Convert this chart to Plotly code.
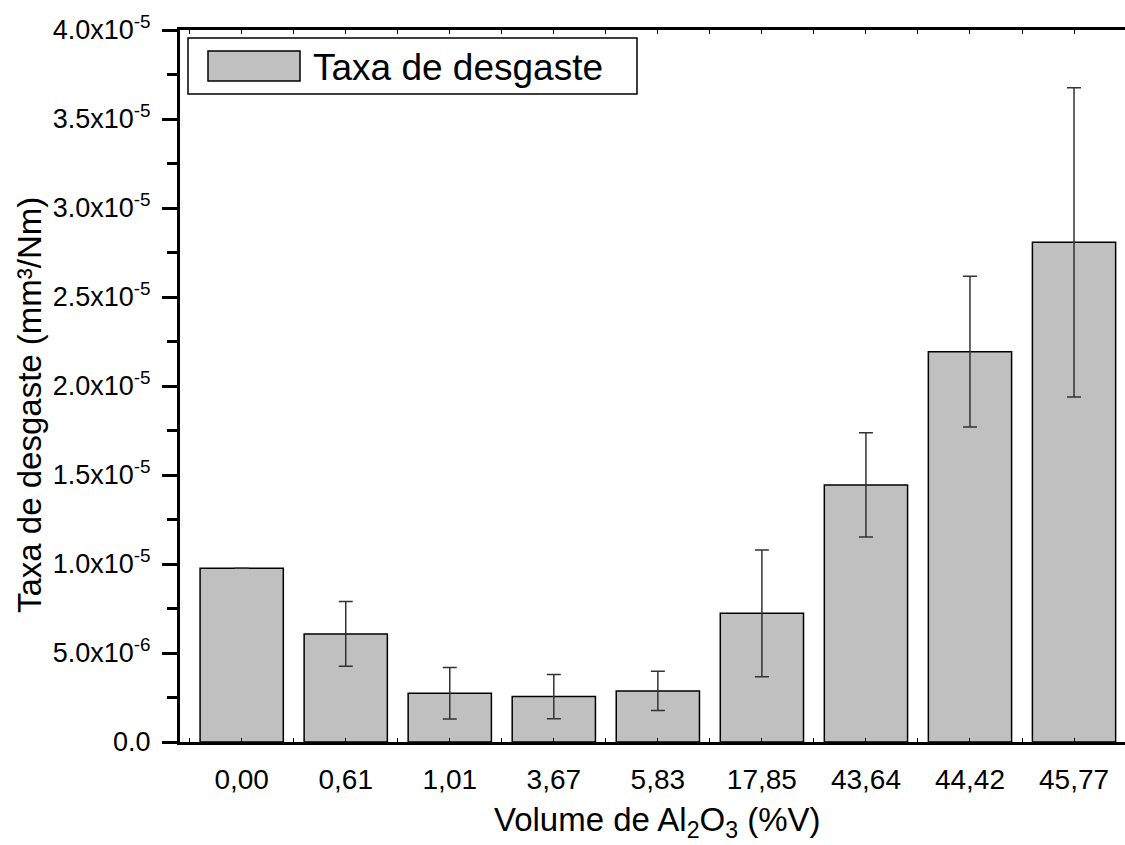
import plotly.graph_objects as go

# Wear rate vs. alumina volume fraction
categories = ["0,00", "0,61", "1,01", "3,67", "5,83", "17,85", "43,64", "44,42", "45,77"]
wear_rate = [9.76e-6, 6.07e-6, 2.74e-6, 2.55e-6, 2.87e-6, 7.23e-6, 1.444e-5, 2.193e-5, 2.807e-5]
wear_err = [None, 1.82e-6, 1.45e-6, 1.24e-6, 1.10e-6, 3.56e-6, 2.93e-6, 4.24e-6, 8.69e-6]

y_tickvals = [0, 5e-6, 1e-5, 1.5e-5, 2e-5, 2.5e-5, 3e-5, 3.5e-5, 4e-5]
y_ticktext = ["0.0", "5.0x10<sup>-6</sup>", "1.0x10<sup>-5</sup>", "1.5x10<sup>-5</sup>",
              "2.0x10<sup>-5</sup>", "2.5x10<sup>-5</sup>", "3.0x10<sup>-5</sup>",
              "3.5x10<sup>-5</sup>", "4.0x10<sup>-5</sup>"]

series_name = "Taxa de desgaste"
x_title = "Volume de Al<sub>2</sub>O<sub>3</sub> (%V)"
y_title = "Taxa de desgaste (mm³/Nm)"

FONT = "Liberation Sans, Arial, Helvetica, sans-serif"
W, H = 1125, 845
L, R, T, B = 180, 0, 30, 103
PW, PH = W - L - R, H - T - B

x_pos = list(range(len(categories)))

fig = go.Figure()
fig.add_trace(go.Bar(
    x=x_pos, y=wear_rate, width=0.8,
    marker=dict(color="#c0c0c0", line=dict(color="black", width=1.5)),
    error_y=dict(type="data", array=wear_err, visible=True,
                 color="#333333", thickness=1.5, width=7),
    name=series_name, showlegend=False,
))


def px_x(p):
    return (p - L) / PW


def px_y(p):
    return (H - B - p) / PH


# Legend box drawn in paper coordinates
shapes = [
    dict(type="rect", xref="paper", yref="paper",
         x0=px_x(188), x1=px_x(637), y0=px_y(94), y1=px_y(38),
         line=dict(color="black", width=1.5), fillcolor="white", layer="above"),
    dict(type="rect", xref="paper", yref="paper",
         x0=px_x(208), x1=px_x(300), y0=px_y(81), y1=px_y(51),
         line=dict(color="black", width=1.5), fillcolor="#c0c0c0", layer="above"),
]

annotations = [
    dict(text=series_name, xref="paper", yref="paper",
         x=px_x(311), y=px_y(67), xanchor="left", yanchor="middle",
         showarrow=False, font=dict(family=FONT, size=37, color="black")),
    # axis titles
    dict(text=x_title, xref="paper", yref="paper",
         x=px_x(657), y=px_y(799), xanchor="center", yanchor="top",
         showarrow=False, font=dict(family=FONT, size=33, color="black")),
    dict(text=y_title, xref="paper", yref="paper", textangle=-90,
         x=px_x(29), y=px_y(405), xanchor="center", yanchor="middle",
         showarrow=False, font=dict(family=FONT, size=33, color="black")),
]

fig.update_layout(
    width=W, height=H,
    margin=dict(l=L, r=R, t=T, b=B, autoexpand=False),
    paper_bgcolor="white", plot_bgcolor="white",
    font=dict(family=FONT, color="black"),
    showlegend=False,
    bargap=0.2,
    shapes=shapes,
    annotations=annotations,
    xaxis=dict(
        range=[-0.593, 8.49],
        tickmode="array", tickvals=x_pos, ticktext=categories,
        tickfont=dict(family=FONT, size=28, color="black"),
        ticks="inside", ticklen=4, tickwidth=1, tickcolor="black",
        minor=dict(tickmode="linear", tick0=0.5, dtick=1, ticks="inside",
                   ticklen=4, tickwidth=1, tickcolor="black"),
        showline=True, linewidth=3, linecolor="black", mirror="ticks",
        showgrid=False, zeroline=False,
        ticklabelstandoff=10,
        automargin=False,
    ),
    yaxis=dict(
        range=[0, 4e-5],
        tickmode="array", tickvals=y_tickvals, ticktext=y_ticktext,
        tickfont=dict(family=FONT, size=27, color="black"),
        ticks="outside", ticklen=15, tickwidth=3, tickcolor="black",
        minor=dict(tickmode="linear", tick0=0, dtick=2.5e-6, ticks="outside",
                   ticklen=10, tickwidth=3, tickcolor="black"),
        showline=True, linewidth=3, linecolor="black", mirror=False,
        showgrid=False, zeroline=False,
        ticklabelstandoff=6,
        automargin=False,
    ),
)

fig.write_html("out.html")
